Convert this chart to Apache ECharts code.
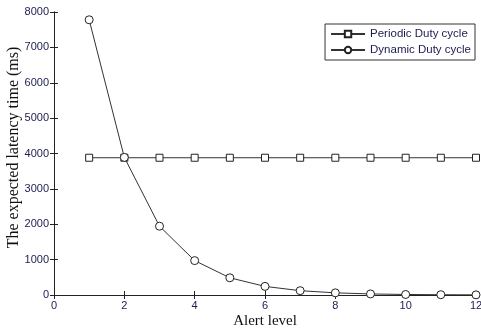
<!DOCTYPE html>
<html><head><meta charset="utf-8">
<script src="https://cdn.jsdelivr.net/npm/echarts@6/dist/echarts.min.js"></script>
<style>html,body{margin:0;padding:0;background:#fff}#c{width:481px;height:331px}</style>
</head><body><div id="c"></div>
<script>
var alertLevels = [1,2,3,4,5,6,7,8,9,10,11,12];
var periodic = [3880,3880,3880,3880,3880,3880,3880,3880,3880,3880,3880,3880];
var dynamic = [7780,3890,1945,972,486,243,122,61,30,15,8,4];
var xTicks = [0,2,4,6,8,10,12];
var yTicks = [0,1000,2000,3000,4000,5000,6000,7000,8000];

var chart = echarts.init(document.getElementById('c'), null, {renderer:'canvas'});
var labelStyle = {color:'#1c1c50', fontFamily:'Liberation Sans, Arial', fontSize:11};
var lineStyle = {color:'#222', width:1};
chart.setOption({
  animation:false,
  backgroundColor:'#fff',
  grid:{left:54, right:5, top:12, bottom:36, outerBoundsMode:'none', containLabel:false},
  legend:{
    right:6, top:24, orient:'vertical', itemGap:4,
    borderColor:'#333', borderWidth:1, padding:[4,4,4,5],
    backgroundColor:'#fff', itemWidth:34, itemHeight:8,
    textStyle:{color:'#1c1c50', fontFamily:'Liberation Sans, Arial', fontSize:11.5},
    data:['Periodic Duty cycle','Dynamic Duty cycle']
  },
  xAxis:[{
    type:'value', min:xTicks[0], max:xTicks[xTicks.length-1], interval:2,
    name:'Alert level', nameLocation:'middle', nameGap:19, nameMoveOverlap:false,
    nameTextStyle:{fontFamily:'Liberation Serif, Times New Roman', fontSize:15, color:'#111'},
    axisLine:{lineStyle:lineStyle}, axisTick:{inside:true, length:4, lineStyle:lineStyle},
    axisLabel:Object.assign({margin:5}, labelStyle), splitLine:{show:false}
  },{
    type:'value', position:'top', min:0, max:12, interval:2,
    axisLine:{lineStyle:lineStyle}, axisTick:{inside:true, length:4, lineStyle:lineStyle},
    axisLabel:{show:false}, splitLine:{show:false}
  }],
  yAxis:[{
    type:'value', min:yTicks[0], max:yTicks[yTicks.length-1], interval:1000,
    name:'The expected latency time (ms)', nameLocation:'middle', nameGap:32, nameMoveOverlap:false,
    nameTextStyle:{fontFamily:'Liberation Serif, Times New Roman', fontSize:16, color:'#111', padding:[0,0,0,12]},
    axisLine:{show:true, lineStyle:lineStyle}, axisTick:{show:true, inside:true, length:4, lineStyle:lineStyle},
    axisLabel:Object.assign({margin:5, formatter:function(v){return String(v);}}, labelStyle), splitLine:{show:false}
  },{
    type:'value', position:'right', min:0, max:8000, interval:1000,
    axisLine:{show:true, lineStyle:lineStyle}, axisTick:{show:true, inside:true, length:4, lineStyle:lineStyle},
    axisLabel:{show:false}, splitLine:{show:false}
  }],
  series:[{
    name:'Periodic Duty cycle', type:'line',
    data:alertLevels.map(function(x,i){return [x, periodic[i]];}),
    symbol:'rect', symbolSize:7, showAllSymbol:true,
    lineStyle:{color:'#333', width:1},
    itemStyle:{color:'#fff', borderColor:'#222', borderWidth:1}
  },{
    name:'Dynamic Duty cycle', type:'line',
    data:alertLevels.map(function(x,i){return [x, dynamic[i]];}),
    symbol:'circle', symbolSize:8, showAllSymbol:true,
    lineStyle:{color:'#333', width:1},
    itemStyle:{color:'#fff', borderColor:'#222', borderWidth:1}
  }]
});
</script></body></html>
